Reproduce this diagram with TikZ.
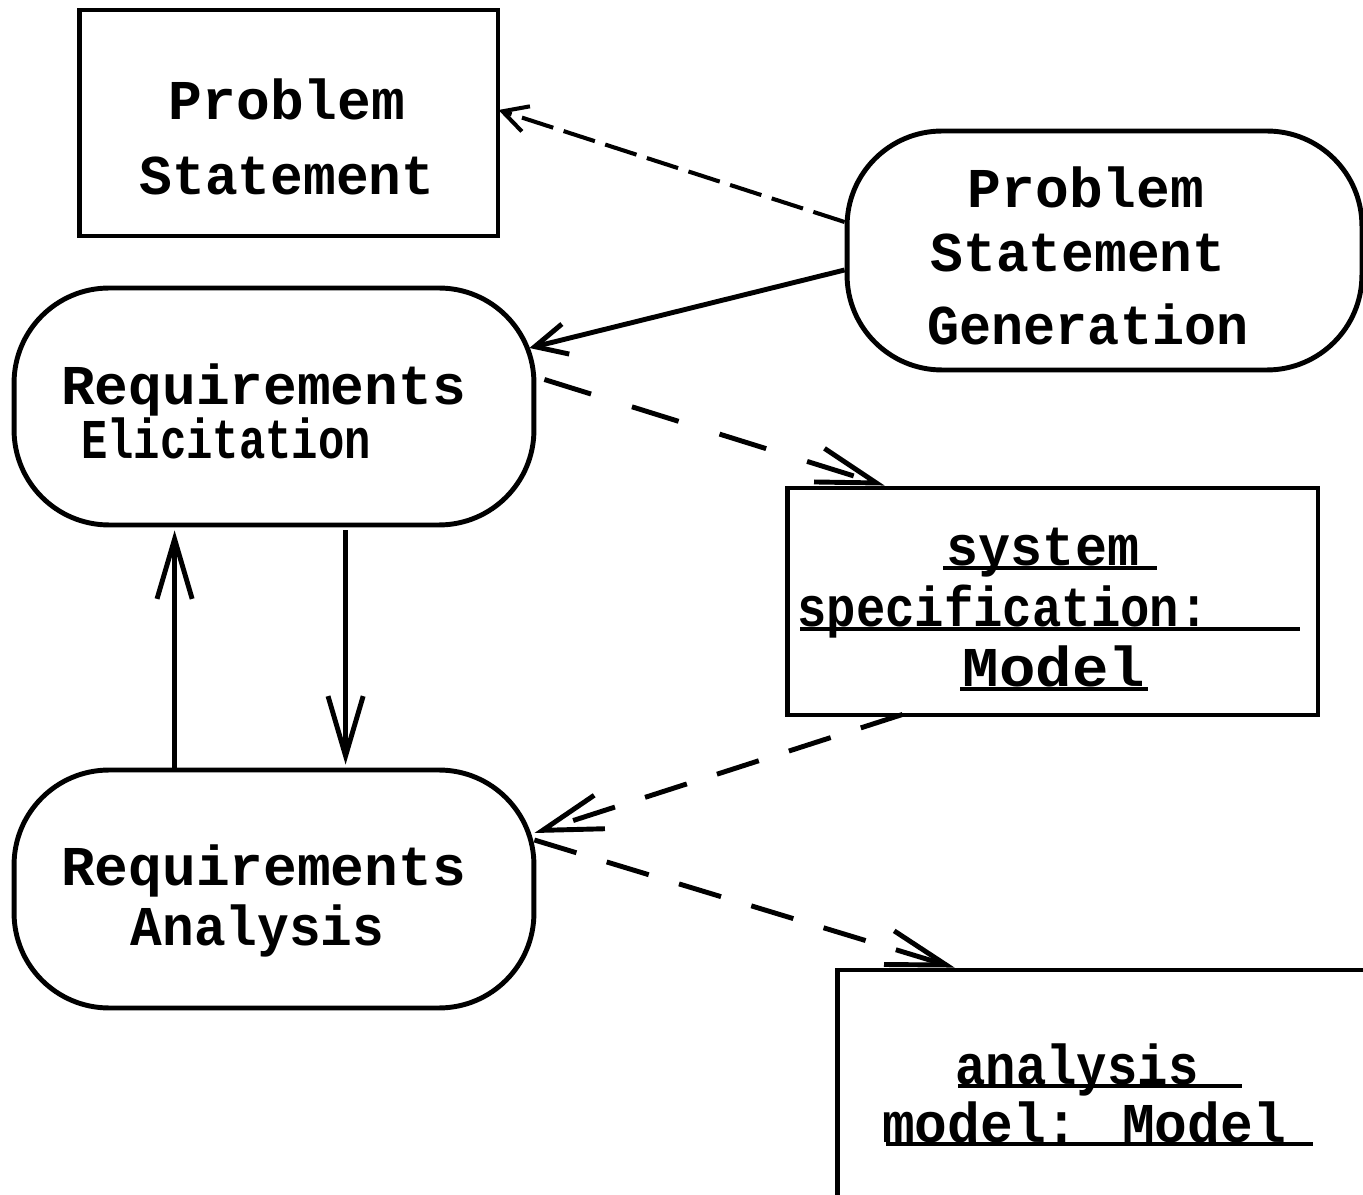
\documentclass[tikz,border=0pt]{standalone}
\usepackage{fontspec}
\setmainfont{Liberation Mono}
\usepackage{graphicx}
\usetikzlibrary{arrows.meta,calc}
\newcommand{\hs}[2]{\scalebox{#1}[1]{#2}}
\begin{document}
\begin{tikzpicture}[x=0.02cm,y=-0.02cm,
  objbox/.style={draw,line width=2.8pt,rectangle,inner sep=0pt},
  activity/.style={draw,line width=2.8pt,rectangle,rounded corners=1.9cm,inner sep=0pt},
  lbl/.style={anchor=base,inner sep=0pt,font=\fontsize{32}{36}\selectfont\bfseries},
  uline/.style={line width=2.3pt},
  flow/.style={line width=2.8pt,-{Straight Barb[length=34pt,width=20pt]}},
  objflow/.style={line width=2.8pt,dash pattern=on 25pt off 18pt,-{Straight Barb[length=34pt,width=20pt]}},
  longflow/.style={line width=2.8pt,dash pattern=on 27.8pt off 24.4pt,-{Straight Barb[length=34pt,width=20pt]}},
  thinflow/.style={line width=2.3pt,dash pattern=on 18.7pt off 6.2pt,-{Straight Barb[length=14pt,width=15pt]}},
  genflow/.style={line width=2.8pt,-{Straight Barb[length=18pt,width=17.6pt]}}
]
\useasboundingbox (0,0) rectangle (1363,1195);
\clip (0,0) rectangle (1363,1195);

% shapes
\node[objbox,minimum width=8.38cm,minimum height=4.52cm] (ps) at (288.5,123) {};
\node[activity,minimum width=10.3cm,minimum height=4.78cm] (psg) at (1104.5,250.5) {};
\node[activity,minimum width=10.4cm,minimum height=4.74cm] (re) at (274,406.5) {};
\node[activity,minimum width=10.4cm,minimum height=4.76cm] (ra) at (274,889) {};
\node[objbox,minimum width=10.62cm,minimum height=4.54cm] (ss) at (1052.5,601.5) {};
\node[objbox,minimum width=12cm,minimum height=6cm] (am) at (1137,1120) {};

% texts
\node[lbl] (ps1) at (287,120) {Problem};
\node[lbl] (ps2) at (287,195) {\hs{0.97}{Statement}};
\node[lbl] (psg1) at (1086,208) {Problem};
\node[lbl] (psg2) at (1078,272) {\hs{0.97}{Statement}};
\node[lbl] (psg3) at (1088,345) {\hs{0.95}{Generation}};
\node[lbl] (re1) at (263.5,405) {Requirements};
\node[lbl] (re2) at (226,459) {\hs{0.78}{Elicitation}};
\node[lbl] (ra1) at (263.5,886) {Requirements};
\node[lbl] (ra2) at (257.5,945) {\hs{0.94}{Analysis}};
\node[lbl] (ss1) at (1043,566) {\hs{0.95}{system}};
\node[lbl] (ss2) at (1003,627) {\hs{0.87}{specification:}};
\node[lbl] (ss3) at (1054,687) {\hs{1.08}{Model}};
\node[lbl] (am1) at (1077,1084) {\hs{0.9}{analysis}};
\node[lbl] (am2) at (1084,1142) {\hs{0.97}{model: Model}};

% underlines
\draw[uline] (943,568) -- (1157,568);
\draw[uline] (800,629) -- (1300,629);
\draw[uline] (960,689) -- (1148,689);
\draw[uline] (958,1086) -- (1242,1086);
\draw[uline] (886,1144) -- (1313,1144);

% connectors
\draw[thinflow] ($(psg.west)+(0,-28.5)$) -- ($(ps.east)+(-2,-13)$);
\draw[genflow] ($(psg.west)+(0,19.5)$) -- ($(re.east)+(-7,-58.5)$);
\draw[longflow] ($(re.east)+(8,-27)$) -- ($(ss.north west)+(100,0)$);
\draw[objflow] ($(ss.south west)+(118,-3)$) -- ($(ra.east)+(-2,-56)$);
\draw[objflow] ($(ra.east)+(-2,-49)$) -- ($(am.north west)+(120,0)$);
\draw[flow] ($(ra.north west)+(163,0)$) -- ($(re.south west)+(163,3)$);
\draw[flow] ($(re.south west)+(334,3)$) -- ($(ra.north west)+(334,-3)$);
\end{tikzpicture}
\end{document}
